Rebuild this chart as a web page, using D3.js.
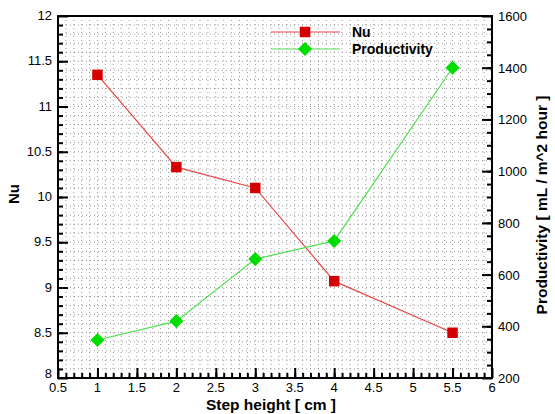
<!DOCTYPE html>
<html><head><meta charset="utf-8">
<script src="https://cdn.jsdelivr.net/npm/d3@7"></script>
<style>body{margin:0;background:#fff}svg{display:block;font-family:"Liberation Sans",Arial,sans-serif}</style>
</head><body><svg id="c" width="555" height="414"></svg>
<script>
const stepHeight = [1, 2, 3, 4, 5.5];
const nuValues = [11.35, 10.33, 10.1, 9.07, 8.5];
const productivity = [347, 420, 660, 730, 1400];
const xTicks = [0.5,1,1.5,2,2.5,3,3.5,4,4.5,5,5.5,6];
const yLeftTicks = [8,8.5,9,9.5,10,10.5,11,11.5,12];
const yRightTicks = [200,400,600,800,1000,1200,1400,1600];
const seriesNames = ["Nu", "Productivity"];

const svg = d3.select("#c");
const L=58, R=492, T=16, B=378;
const x = d3.scaleLinear().domain([0.5,6]).range([L,R]);
const yL = d3.scaleLinear().domain([8,12]).range([B,T]);
const yR = d3.scaleLinear().domain([200,1600]).range([B,T]);

// grid
const g = svg.append("g");
const xMinor = d3.range(0.6,6,0.1);
const yMinor = d3.range(8.1,12,0.1);
g.selectAll("line.vx").data(xMinor).join("line")
 .attr("x1",d=>x(d)).attr("x2",d=>x(d)).attr("y1",T).attr("y2",B)
 .attr("stroke","#999").attr("stroke-width",1).attr("stroke-dasharray","1,3");
g.selectAll("line.hy").data(yMinor).join("line")
 .attr("y1",d=>yL(d)).attr("y2",d=>yL(d)).attr("x1",L).attr("x2",R)
 .attr("stroke","#999").attr("stroke-width",1).attr("stroke-dasharray","1,3");

// axes with inward ticks
const fmt = d=>String(d);
const xAxis = d3.axisTop(x).tickValues(xTicks).tickSize(10).tickFormat("");
const xMinorAx = d3.axisTop(x).tickValues(d3.range(0.6,6,0.1)).tickSize(5).tickFormat("");
svg.append("g").attr("transform",`translate(0,${B})`).call(xMinorAx);
svg.append("g").attr("transform",`translate(0,${B})`).call(xAxis);

const lAx = d3.axisRight(yL).tickValues(yLeftTicks).tickSize(10).tickFormat("");
const lMin = d3.axisRight(yL).tickValues(d3.range(8.1,12,0.1)).tickSize(5).tickFormat("");
svg.append("g").attr("transform",`translate(${L},0)`).call(lMin);
svg.append("g").attr("transform",`translate(${L},0)`).call(lAx);
const rAx = d3.axisLeft(yR).tickValues(yRightTicks).tickSize(10).tickFormat("");
const rMin = d3.axisLeft(yR).tickValues(d3.range(250,1600,50)).tickSize(5).tickFormat("");
svg.append("g").attr("transform",`translate(${R},0)`).call(rMin);
svg.append("g").attr("transform",`translate(${R},0)`).call(rAx);
svg.selectAll(".domain").remove();
svg.selectAll(".tick line").attr("stroke","#000").attr("stroke-width",2);

// frame
svg.append("rect").attr("x",L).attr("y",T).attr("width",R-L).attr("height",B-T)
 .attr("fill","none").attr("stroke","#000").attr("stroke-width",2);

// tick labels
svg.append("g").selectAll("text").data(xTicks).join("text")
 .attr("x",d=>x(d)).attr("y",B+14).attr("text-anchor","middle")
 .attr("font-size",13).text(fmt);
svg.append("g").selectAll("text").data(yLeftTicks).join("text")
 .attr("x",L-6).attr("y",d=>yL(d)+(d===8?0:4)).attr("text-anchor","end")
 .attr("font-size",13).text(fmt);
svg.append("g").selectAll("text").data(yRightTicks).join("text")
 .attr("x",R+6).attr("y",d=>yR(d)+5).attr("text-anchor","start")
 .attr("font-size",13).text(fmt);

// titles
svg.append("text").attr("x",271).attr("y",410).attr("text-anchor","middle")
 .attr("font-weight","bold").attr("font-size",15.5).text("Step height [ cm ]");
svg.append("text").attr("transform","translate(19,194) rotate(-90)").attr("text-anchor","middle")
 .attr("font-weight","bold").attr("font-size",15).text("Nu");
svg.append("text").attr("transform","translate(547,205) rotate(-90)").attr("text-anchor","middle")
 .attr("font-weight","bold").attr("font-size",15.5).text("Productivity [ mL / m^2 hour ]");

// series
const red="#d40000", green="#00dd00";
const nuPts = stepHeight.map((s,i)=>[s,nuValues[i]]);
const prPts = stepHeight.map((s,i)=>[s,productivity[i]]);
svg.append("path").datum(nuPts).attr("fill","none").attr("stroke","#e84848").attr("stroke-width",1.2)
 .attr("d",d3.line().x(d=>x(d[0])).y(d=>yL(d[1])));
svg.append("path").datum(prPts).attr("fill","none").attr("stroke","#50e050").attr("stroke-width",1.2)
 .attr("d",d3.line().x(d=>x(d[0])).y(d=>yR(d[1])));
const sq = d3.symbol().type(d3.symbolSquare).size(110);
const dm = d3.symbol().type(d3.symbolSquare).size(100);
svg.append("g").selectAll("path").data(nuPts).join("path")
 .attr("transform",d=>`translate(${x(d[0])},${yL(d[1])})`).attr("d",sq).attr("fill",red);
svg.append("g").selectAll("path").data(prPts).join("path")
 .attr("transform",d=>`translate(${x(d[0])},${yR(d[1])}) rotate(45)`).attr("d",dm).attr("fill",green);

// legend
const lg = svg.append("g");
[[red,"#e84848",sq,32,""],[green,"#50e050",dm,49," rotate(45)"]].forEach((c,i)=>{
  lg.append("line").attr("x1",271).attr("x2",340).attr("y1",c[3]).attr("y2",c[3]).attr("stroke",c[1]).attr("stroke-width",1.2);
  lg.append("path").attr("transform",`translate(305,${c[3]})${c[4]}`).attr("d",c[2]).attr("fill",c[0]);
  lg.append("text").attr("x",352).attr("y",c[3]+5).attr("font-weight","bold").attr("font-size",14).text(seriesNames[i]);
});
</script></body></html>
